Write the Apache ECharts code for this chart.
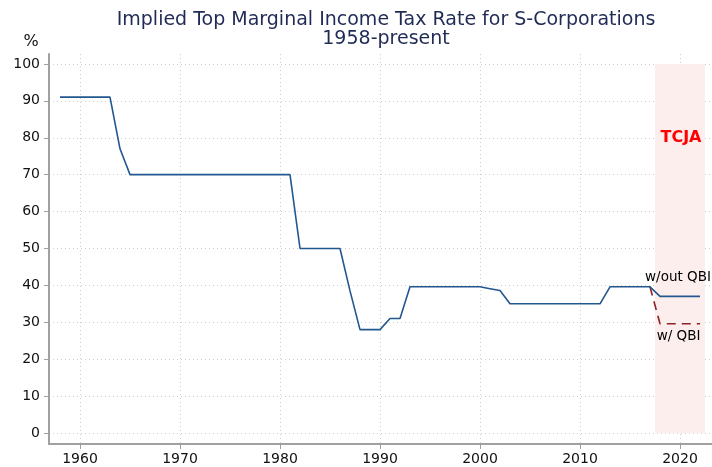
<!DOCTYPE html>
<html>
<head>
<meta charset="utf-8">
<script src="https://cdn.jsdelivr.net/npm/echarts@6/dist/echarts.min.js"></script>
<style>
  html, body { margin: 0; padding: 0; background: #fff; }
  #chart { width: 712px; height: 467px; }
</style>
</head>
<body>
<div id="chart"></div>
<script>
// 数据
const years = [1958, 1959, 1960, 1961, 1962, 1963, 1964, 1965, 1966, 1967, 1968, 1969, 1970,
  1971, 1972, 1973, 1974, 1975, 1976, 1977, 1978, 1979, 1980, 1981, 1982, 1983, 1984, 1985,
  1986, 1987, 1988, 1989, 1990, 1991, 1992, 1993, 1994, 1995, 1996, 1997, 1998, 1999, 2000,
  2001, 2002, 2003, 2004, 2005, 2006, 2007, 2008, 2009, 2010, 2011, 2012, 2013, 2014, 2015,
  2016, 2017, 2018, 2019, 2020, 2021, 2022];
const rateNoQbi = [91, 91, 91, 91, 91, 91, 77, 70, 70, 70, 70, 70, 70,
  70, 70, 70, 70, 70, 70, 70, 70, 70, 70, 70, 50, 50, 50, 50,
  50, 38.5, 28, 28, 28, 31, 31, 39.6, 39.6, 39.6, 39.6, 39.6, 39.6, 39.6, 39.6,
  39.1, 38.6, 35, 35, 35, 35, 35, 35, 35, 35, 35, 35, 39.6, 39.6, 39.6,
  39.6, 39.6, 37, 37, 37, 37, 37];
const qbiYears = [2017, 2018, 2019, 2020, 2021, 2022];
const rateQbi = [39.6, 29.6, 29.6, 29.6, 29.6, 29.6];
const xTicks = [1960, 1970, 1980, 1990, 2000, 2010, 2020];
const yTicks = [0, 10, 20, 30, 40, 50, 60, 70, 80, 90, 100];
const tcja = [2017.5, 2022.5];
const notes = [
  { name: 'TCJA', x: 2020.1, y: 80 },
  { name: 'w/out QBI', x: 2019.8, y: 42 },
  { name: 'w/ QBI', x: 2019.85, y: 26 }
];

const chart = echarts.init(document.getElementById('chart'));
const font = 'DejaVu Sans';

const option = {
  animation: false,
  textStyle: { fontFamily: font },
  title: {
    text: 'Implied Top Marginal Income Tax Rate for S-Corporations\n1958-present',
    left: 381,
    textAlign: 'center',
    top: 6,
    textStyle: { fontSize: 19, fontWeight: 'normal', color: '#1f2b55', lineHeight: 19, fontFamily: font }
  },
  grid: { left: 49, right: 0, top: 54, bottom: 23 },
  xAxis: {
    type: 'value',
    min: 1956.9,
    max: 2023.2,
    axisLine: { show: true, onZero: false, lineStyle: { color: '#a0a0a0', width: 2 } },
    axisTick: { show: true, length: 5, customValues: xTicks, lineStyle: { color: '#a0a0a0' } },
    axisLabel: { customValues: xTicks, formatter: v => String(v), color: '#111', fontSize: 14, margin: 8, fontFamily: font },
    splitLine: { show: true, lineStyle: { color: '#cfcfcf', type: [1, 3] } }
  },
  yAxis: {
    type: 'value',
    min: -3,
    max: 102.7,
    name: '%',
    nameLocation: 'end',
    nameGap: 4,
    nameTextStyle: { fontSize: 16, color: '#111', padding: [0, 36, 0, 0], fontFamily: font },
    axisLine: { show: true, onZero: false, lineStyle: { color: '#a0a0a0', width: 2 } },
    axisTick: { show: true, length: 5, customValues: yTicks, lineStyle: { color: '#a0a0a0' } },
    axisLabel: { customValues: yTicks, color: '#111', fontSize: 14, margin: 9, fontFamily: font },
    splitLine: { show: true, lineStyle: { color: '#cfcfcf', type: [1, 3] } }
  },
  series: [
    {
      name: 'w/out QBI',
      type: 'line',
      data: years.map((y, i) => [y, rateNoQbi[i]]),
      showSymbol: false,
      lineStyle: { color: '#22578f', width: 1.6 },
      z: 3,
      markArea: {
        silent: true,
        itemStyle: { color: '#fdeeee' },
        data: [[{ xAxis: tcja[0], yAxis: 0 }, { xAxis: tcja[1], yAxis: 100 }]]
      }
    },
    {
      name: 'w/ QBI',
      type: 'line',
      data: qbiYears.map((y, i) => [y, rateQbi[i]]),
      showSymbol: false,
      lineStyle: { color: '#8b2329', width: 1.6, type: [9, 6] },
      z: 2
    },
    {
      type: 'scatter',
      symbolSize: 0,
      silent: true,
      itemStyle: { opacity: 1 },
      data: notes.map(n => ({ name: n.name, value: [n.x, n.y] })),
      label: {
        show: true,
        position: 'inside',
        formatter: p => p.name,
        fontSize: 13.5,
        color: '#000',
        opacity: 1,
        fontFamily: font
      },
      labelLayout: { hideOverlap: false }
    }
  ]
};

// TCJA 标签样式
option.series[2].data[0].label = { fontSize: 16, fontWeight: 'bold', color: '#ff0000' };

chart.setOption(option);
</script>
</body>
</html>
